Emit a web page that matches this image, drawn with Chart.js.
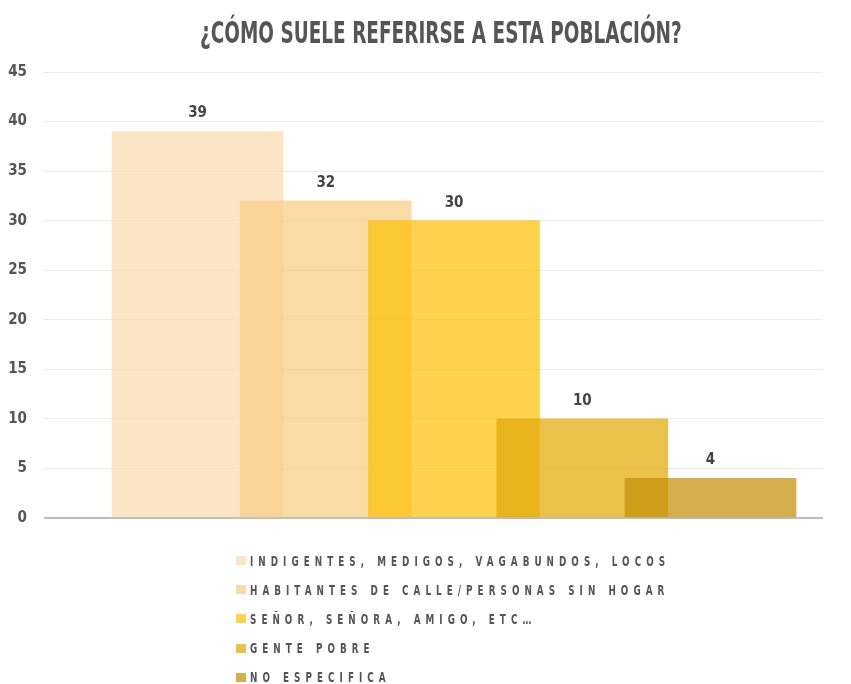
<!DOCTYPE html>
<html>
<head>
<meta charset="utf-8">
<script src="https://cdn.jsdelivr.net/npm/chart.js@4"></script>
<style>
  body { margin: 0; background: #fff; }
  #wrap { position: relative; width: 851px; height: 684px; overflow: hidden; }
  #box { position: absolute; left: 0; top: 0; width: 851px; height: 560px; }
  #title { position: absolute; left: 200px; top: 18px; margin: 0; white-space: nowrap;
    font-family: 'DejaVu Sans Condensed', sans-serif; font-weight: bold; font-size: 30px; line-height: 30px;
    color: #555; transform: scaleX(0.684); transform-origin: 0 0; }
  #legend { position: absolute; left: 236px; top: 546px; }
  #legend div { height: 29.2px; display: flex; align-items: center; white-space: nowrap; }
  #legend span.sw { display: inline-block; width: 10px; height: 9px; margin-right: 4px; }
  #legend span.tx { display: inline-block; font-family: 'DejaVu Sans Condensed', sans-serif; font-weight: bold;
    font-size: 14px; color: #555; letter-spacing: 7.2px; transform: scaleX(0.7); transform-origin: 0 50%; }
</style>
</head>
<body>
<div id="wrap">
  <div id="box"><canvas id="chart"></canvas></div>
  <h1 id="title">¿CÓMO SUELE REFERIRSE A ESTA POBLACIÓN?</h1>
  <div id="legend"></div>
</div>
<script>
const FONT = "'DejaVu Sans Condensed', sans-serif";

const categories = [
  'INDIGENTES, MEDIGOS, VAGABUNDOS, LOCOS',
  'HABITANTES DE CALLE/PERSONAS SIN HOGAR',
  'SEÑOR, SEÑORA, AMIGO, ETC…',
  'GENTE POBRE',
  'NO ESPECIFICA'
];
const values = [39, 32, 30, 10, 4];
const colors = [
  'rgba(251, 219, 174, 0.73)',
  'rgba(247, 206, 133, 0.73)',
  'rgba(252, 193, 10, 0.73)',
  'rgba(225, 170, 8, 0.73)',
  'rgba(196, 146, 10, 0.73)'
];
const yTicks = { min: 0, max: 45, step: 5 };

// numbers above each bar
const valueLabels = {
  id: 'valueLabels',
  afterDatasetsDraw(chart) {
    const ctx = chart.ctx;
    ctx.save();
    ctx.font = 'bold 15px ' + FONT;
    ctx.fillStyle = '#444';
    ctx.textAlign = 'center';
    ctx.textBaseline = 'alphabetic';
    chart.data.datasets.forEach((ds, i) => {
      chart.getDatasetMeta(i).data.forEach((bar, j) => {
        ctx.fillText(ds.data[j].y, bar.x, bar.y - 14);
      });
    });
    ctx.restore();
  }
};

const chart = new Chart(document.getElementById('chart'), {
  type: 'bar',
  data: {
    datasets: categories.map((name, i) => ({
      label: name,
      data: [{ x: i, y: values[i] }],
      backgroundColor: colors[i],
      order: categories.length - i
    }))
  },
  options: {
    responsive: true,
    maintainAspectRatio: false,
    animation: false,
    grouped: false,
    barThickness: 171,
    layout: { padding: { top: 72, right: 28, bottom: 42, left: 0 } },
    plugins: {
      legend: { display: false },
      tooltip: { enabled: false },
      title: { display: false }
    },
    scales: {
      x: {
        type: 'linear',
        display: false,
        offset: false,
        min: -1.197,
        max: 4.877
      },
      y: {
        min: yTicks.min,
        max: yTicks.max,
        afterFit: (scale) => { scale.width = 44; },
        border: { display: false },
        grid: {
          drawTicks: false,
          color: (c) => c.tick && c.tick.value === 0 ? '#bdbdbd' : '#ececec',
          lineWidth: (c) => c.tick && c.tick.value === 0 ? 2 : 1
        },
        ticks: {
          stepSize: yTicks.step,
          padding: 17,
          color: '#555',
          font: { family: FONT, size: 15, weight: 'bold' }
        }
      }
    }
  },
  plugins: [valueLabels]
});

const legend = document.getElementById('legend');
categories.forEach((name, i) => {
  const row = document.createElement('div');
  const sw = document.createElement('span');
  sw.className = 'sw';
  sw.style.background = colors[i];
  const tx = document.createElement('span');
  tx.className = 'tx';
  tx.textContent = name;
  row.appendChild(sw);
  row.appendChild(tx);
  legend.appendChild(row);
});
</script>
</body>
</html>
